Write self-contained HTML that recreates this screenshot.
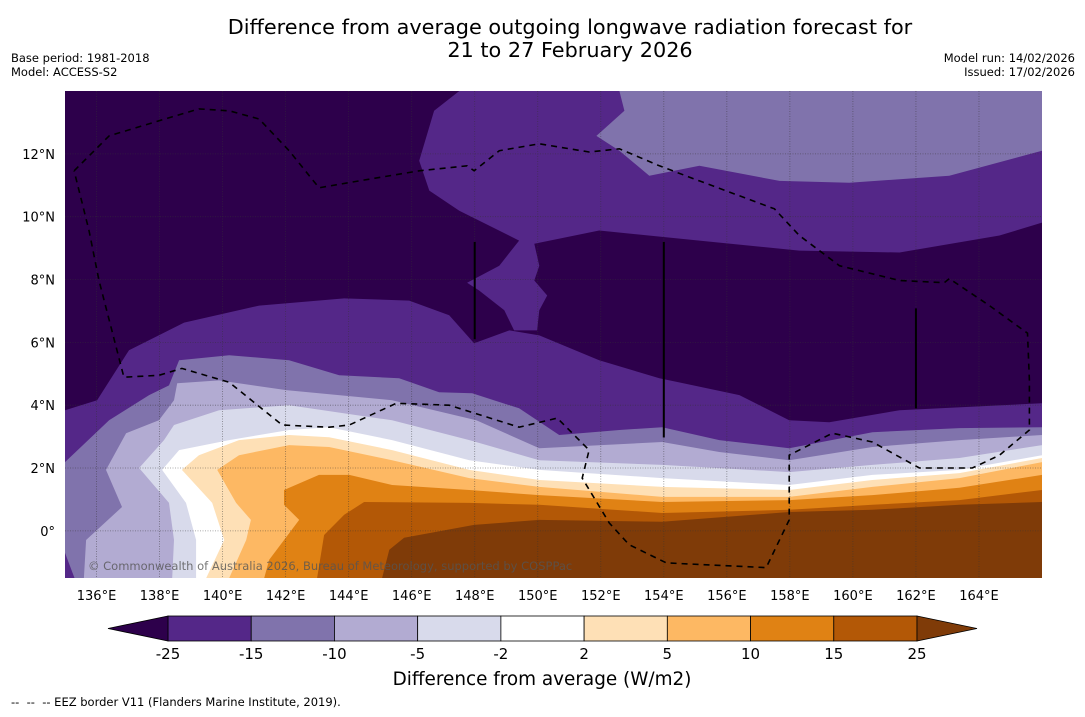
<!DOCTYPE html>
<html><head><meta charset="utf-8"><style>
html,body{margin:0;padding:0;background:#fff;}
body{width:1085px;height:713px;overflow:hidden;font-family:"DejaVu Sans","Liberation Sans",sans-serif;}
</style></head><body>
<svg id="svg" width="1085" height="713" viewBox="0 0 1085 713" xmlns="http://www.w3.org/2000/svg" style="font-family:'DejaVu Sans','Liberation Sans',sans-serif">
<text x="570" y="34" font-size="20.8" text-anchor="middle">Difference from average outgoing longwave radiation forecast for</text>
<text x="570" y="57" font-size="20.8" text-anchor="middle">21 to 27 February 2026</text>
<text x="11" y="62" font-size="11.5">Base period: 1981-2018</text>
<text x="11" y="76" font-size="11.5">Model: ACCESS-S2</text>
<text x="1075" y="62" font-size="11.5" text-anchor="end">Model run: 14/02/2026</text>
<text x="1075" y="76" font-size="11.5" text-anchor="end">Issued: 17/02/2026</text>
<g id="map"></g>
<g id="axes"></g>
<g id="cbar"></g>
<text x="542" y="685" font-size="18.4" text-anchor="middle">Difference from average (W/m2)</text>
<text x="11" y="706" font-size="11.5" xml:space="preserve">--  --  -- EEZ border V11 (Flanders Marine Institute, 2019).</text>
</svg>
<script>
// ---- data ----
const lonTicks = [136,138,140,142,144,146,148,150,152,154,156,158,160,162,164];
const latTicks = [0,2,4,6,8,10,12];
const levels = [-25,-15,-10,-5,-2,2,5,10,15,25];
const levelColors = ["#542788","#8073ac","#b2abd2","#d8daeb","#ffffff","#fee0b6","#fdb863","#e08214","#b35806"];
const lowColor = "#2d004b";
const highColor = "#7f3b08";
// contour boundaries (region south of each line has value >= level)
const bandM25 = [[135,3.84],[136.02,4.16],[137.03,5.75],[138.78,6.63],[141.16,7.17],[143.86,7.40],[145.92,7.33],[147.19,6.86],[147.98,5.97],[149.10,6.38],[150.05,6.22],[151.95,5.43],[153.86,4.86],[156.40,4.32],[157.98,3.52],[159.25,3.46],[161.48,3.84],[166,4.06]];
const bandM15 = [[135,2.19],[136.40,3.52],[137.67,4.32],[138.30,4.63],[138.62,5.43],[140.21,5.59],[142.11,5.43],[143.70,4.95],[145.60,4.86],[146.87,4.41],[147.92,4.38],[149.41,3.90],[150.68,3.05],[152.59,3.21],[153.95,3.30],[155.76,2.89],[157.98,2.63],[160.62,3.14],[163.38,3.27],[166,3.30]];
const bandM10 = [[135.60,-1.5],[135.67,-0.29],[136.81,0.76],[136.30,1.94],[136.94,3.11],[137.98,3.52],[138.46,4.16],[138.56,4.70],[139.89,4.79],[142.02,4.48],[145.38,4.16],[148.05,3.52],[150.05,2.63],[153.95,2.83],[155.76,2.51],[157.98,2.25],[160.62,2.67],[163.38,2.89],[166,3.05]];
const bandM5 = [[138.40,-1.5],[138.46,-0.29],[138.30,0.89],[137.35,2.0],[138.14,2.89],[138.46,3.37],[139.89,3.84],[142.11,4.0],[145.38,3.52],[147.83,2.89],[150.05,2.25],[153.95,2.10],[157.98,1.87],[160.62,2.10],[163.38,2.32],[166,2.73]];
const bandM2 = [[139.16,-1.5],[139.16,-0.29],[138.84,0.89],[138.08,1.94],[138.62,2.57],[140.21,2.89],[142.11,3.21],[143.38,3.30],[145.38,2.89],[147.83,2.25],[150.05,1.94],[153.95,1.68],[157.98,1.46],[160.62,1.78],[163.38,1.94],[166,2.41]];
const bandP2 = [[139.48,-1.5],[140.05,-0.29],[139.67,0.89],[138.71,1.94],[139.25,2.41],[140.52,2.89],[142.11,3.05],[143.38,2.98],[145.38,2.57],[147.83,1.94],[150.05,1.62],[153.95,1.40],[157.98,1.30],[160.62,1.62],[163.38,1.84],[166,2.32]];
const bandP5 = [[140.21,-1.5],[140.75,-0.29],[140.90,0.35],[140.43,0.89],[139.83,1.94],[140.52,2.41],[142.11,2.73],[143.38,2.67],[145.38,2.25],[147.83,1.68],[150.05,1.40],[153.95,1.08],[157.98,1.08],[160.62,1.40],[163.38,1.68],[166,2.19]];
const bandP10 = [[141.32,-1.5],[141.48,-0.92],[142.43,0.35],[141.95,0.83],[141.95,1.30],[143.06,1.78],[144.02,1.78],[145.38,1.46],[147.83,1.30],[150.05,1.14],[153.95,0.92],[157.98,0.98],[160.62,1.14],[163.38,1.37],[166,1.78]];
const bandP15 = [[143.0,-1.5],[143.22,-0.13],[143.86,0.51],[144.49,0.92],[147.83,0.89],[150.05,0.83],[153.95,0.57],[157.98,0.67],[160.62,0.83],[163.38,0.98],[166,1.30]];
const bandP25 = [[145.06,-1.5],[145.29,-0.60],[145.76,-0.22],[147.98,0.19],[150.05,0.35],[153.95,0.29],[157.98,0.60],[160.62,0.67],[163.38,0.83],[166,0.92]];
const northM25 = [[147.51,14],[146.71,13.37],[146.24,11.78],[146.56,10.83],[147.51,10.19],[149.41,9.24],[148.78,8.44],[147.76,7.90],[148.14,7.65],[148.94,7.02],[149.25,6.38],[149.98,6.38],[150.05,7.02],[150.30,7.49],[149.89,7.97],[150.05,8.44],[149.89,9.14],[151.95,9.56],[155.13,9.24],[158.30,8.92],[161.48,8.86],[164.65,9.40],[166,9.81],[166,14]];
const northM15 = [[152.59,14],[152.75,13.37],[151.86,12.57],[152.59,12.10],[153.54,11.30],[155.13,11.62],[157.67,11.14],[159.89,11.08],[163.06,11.30],[166,12.10],[166,14]];
const cornerM25 = [[135,-0.7],[135.3,-1.5],[135,-1.5]];
const eez = [[135.29,11.46],[136.40,12.57],[137.98,13.05],[139.25,13.43],[140.21,13.37],[141.16,13.11],[142.11,12.10],[143.06,10.92],[144.33,11.14],[146.24,11.46],[147.76,11.62],[147.98,11.46],[148.78,12.10],[150.05,12.32],[151.63,12.06],[152.59,12.16],[153.86,11.62],[155.13,11.14],[157.51,10.25],[158.30,9.40],[159.57,8.44],[161.48,7.97],[162.90,7.90],[163.06,8.03],[164.33,7.17],[165.54,6.29],[165.60,4.79],[165.60,3.21],[164.65,2.41],[163.79,2.0],[162.11,2.0],[160.62,2.83],[159.35,3.11],[157.98,2.41],[157.98,0.35],[157.25,-1.17],[154.08,-1.02],[152.90,-0.44],[152.27,0.25],[151.41,1.68],[151.63,2.57],[150.62,3.59],[149.41,3.30],[147.19,4.0],[145.51,4.06],[144.02,3.37],[143.38,3.30],[141.89,3.37],[140.21,4.73],[138.71,5.17],[137.98,4.95],[136.87,4.89],[136.08,7.97],[135.76,9.56],[135.29,11.46]];
const islandLines = [[148.0,9.2,6.1],[154.0,9.2,2.97],[162.0,7.08,3.9]];

// ---- axes ----
const LON0=135, LON1=166, LAT0=-1.5, LAT1=14;
const X0=65, X1=1042, Y0=578, Y1=91;
const xs = lon => X0 + (lon-LON0)/(LON1-LON0)*(X1-X0);
const ys = lat => Y0 - (lat-LAT0)/(LAT1-LAT0)*(Y0-Y1);
const NS="http://www.w3.org/2000/svg";
function mk(tag, parent){const e=document.createElementNS(NS,tag);parent.appendChild(e);return e;}
const map=document.getElementById('map'), axes=document.getElementById('axes'), cbar=document.getElementById('cbar');
const pts = arr => arr.map(p=>xs(p[0]).toFixed(1)+','+ys(p[1]).toFixed(1)).join(' ');

const bg=mk('rect',map);


bg.setAttribute('x',X0);bg.setAttribute('y',Y1);bg.setAttribute('width',X1-X0);bg.setAttribute('height',Y0-Y1);bg.setAttribute('fill',lowColor);

const bands=[bandM25,bandM15,bandM10,bandM5,bandM2,bandP2,bandP5,bandP10,bandP15,bandP25];
const bandColors=levelColors.concat([highColor]);
const bandNames=['band-m25','band-m15','band-m10','band-m5','band-m2','band-p2','band-p5','band-p10','band-p15','band-p25'];
bands.forEach((b,i)=>{
  const p=mk('polygon',map);
  
  
  p.setAttribute('points',pts(b.concat([[LON1,LAT0],[LON0,LAT0]])));
  p.setAttribute('fill',bandColors[i]);
});
[[northM25,levelColors[0],'north-band-m25'],[northM15,levelColors[1],'north-band-m15'],[cornerM25,levelColors[0],'corner-band-m25']].forEach(d=>{
  const p=mk('polygon',map);
  
  
  p.setAttribute('points',pts(d[0]));p.setAttribute('fill',d[1]);
});
// grid
lonTicks.forEach(l=>{
  const g=mk('line',map);
  
  
  g.setAttribute('x1',xs(l));g.setAttribute('x2',xs(l));g.setAttribute('y1',Y1);g.setAttribute('y2',Y0);
  g.setAttribute('stroke','#333');g.setAttribute('stroke-opacity','0.55');g.setAttribute('stroke-width','0.8');g.setAttribute('stroke-dasharray','1,1.5');
  const t=mk('text',axes);
  
  
  t.setAttribute('x',xs(l));t.setAttribute('y',600);t.setAttribute('font-size','13');t.setAttribute('text-anchor','middle');
  t.textContent=l+'°E';
});
latTicks.forEach(l=>{
  const g=mk('line',map);
  
  
  g.setAttribute('x1',X0);g.setAttribute('x2',X1);g.setAttribute('y1',ys(l));g.setAttribute('y2',ys(l));
  g.setAttribute('stroke','#333');g.setAttribute('stroke-opacity','0.55');g.setAttribute('stroke-width','0.8');g.setAttribute('stroke-dasharray','1,1.5');
  const t=mk('text',axes);
  
  
  t.setAttribute('x',55);t.setAttribute('y',ys(l)+5);t.setAttribute('font-size','13');t.setAttribute('text-anchor','end');
  t.textContent=l===0?'0°':l+'°N';
});
islandLines.forEach(d=>{
  const g=mk('line',map);
  
  
  g.setAttribute('x1',xs(d[0]));g.setAttribute('x2',xs(d[0]));g.setAttribute('y1',ys(d[1]));g.setAttribute('y2',ys(d[2]));
  g.setAttribute('stroke','#000');g.setAttribute('stroke-width','2');
});
const ez=mk('polyline',map);


ez.setAttribute('points',pts(eez));ez.setAttribute('fill','none');ez.setAttribute('stroke','#000');ez.setAttribute('stroke-width','1.6');ez.setAttribute('stroke-dasharray','6,5');
const cp=mk('text',map);


cp.setAttribute('x',88);cp.setAttribute('y',570);cp.setAttribute('font-size','11.5');cp.setAttribute('fill','#555');cp.setAttribute('fill-opacity','0.8');
cp.textContent='© Commonwealth of Australia 2026, Bureau of Meteorology, supported by COSPPac';

// ---- colorbar ----
const CB0=168, CB1=917, CBY=616, CBH=25;
const cx = i => CB0 + i*(CB1-CB0)/(levels.length-1);
levelColors.forEach((c,i)=>{
  const r=mk('rect',cbar);
  
  
  r.setAttribute('x',cx(i));r.setAttribute('y',CBY);r.setAttribute('width',cx(i+1)-cx(i));r.setAttribute('height',CBH);
  r.setAttribute('fill',c);r.setAttribute('stroke','#000');r.setAttribute('stroke-width','0.8');
});
const lt=mk('polygon',cbar);


lt.setAttribute('points',`${CB0},${CBY} ${CB0-60},${CBY+CBH/2} ${CB0},${CBY+CBH}`);lt.setAttribute('fill',lowColor);lt.setAttribute('stroke','#000');lt.setAttribute('stroke-width','0.8');
const ht=mk('polygon',cbar);


ht.setAttribute('points',`${CB1},${CBY} ${CB1+60},${CBY+CBH/2} ${CB1},${CBY+CBH}`);ht.setAttribute('fill',highColor);ht.setAttribute('stroke','#000');ht.setAttribute('stroke-width','0.8');
levels.forEach((v,i)=>{
  const t=mk('text',cbar);
  
  
  t.setAttribute('x',cx(i));t.setAttribute('y',659);t.setAttribute('font-size','15');t.setAttribute('text-anchor','middle');
  t.textContent=v;
});
</script>
</body></html>
